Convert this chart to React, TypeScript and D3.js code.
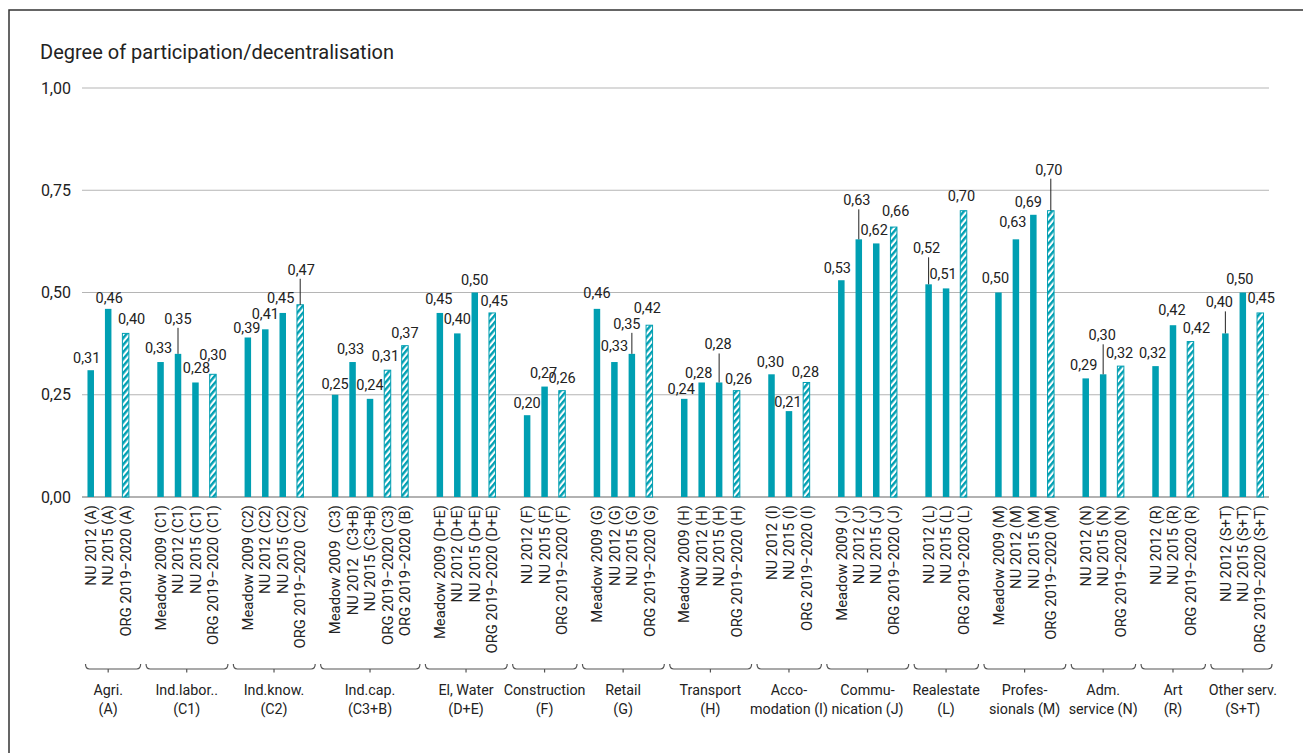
import * as d3 from "d3";
import { useEffect, useRef } from "react";

// category groups (two-line labels under the brackets)
const groupNames = [
  ["Agri.", "(A)"],
  ["Ind.labor..", "(C1)"],
  ["Ind.know.", "(C2)"],
  ["Ind.cap.", "(C3+B)"],
  ["El, Water", "(D+E)"],
  ["Construction", "(F)"],
  ["Retail", "(G)"],
  ["Transport", "(H)"],
  ["Acco-", "modation (I)"],
  ["Commu-", "nication (J)"],
  ["Realestate", "(L)"],
  ["Profes-", "sionals (M)"],
  ["Adm.", "service (N)"],
  ["Art", "(R)"],
  ["Other serv.", "(S+T)"],
];

// bar labels (rotated under the axis)
const seriesNames = [
  ["NU 2012 (A)", "NU 2015 (A)", "ORG 2019\u22122020 (A)"],
  ["Meadow 2009 (C1)", "NU 2012 (C1)", "NU 2015 (C1)", "ORG 2019\u22122020 (C1)"],
  ["Meadow 2009 (C2)", "NU 2012 (C2)", "NU 2015 (C2)", "ORG 2019\u22122020  (C2)"],
  ["Meadow 2009  (C3)", "NU 2012  (C3+B)", "NU 2015 (C3+B)", "ORG 2019\u22122020 (C3)", "ORG 2019\u22122020 (B)"],
  ["Meadow 2009 (D+E)", "NU 2012 (D+E)", "NU 2015 (D+E)", "ORG 2019\u22122020 (D+E)"],
  ["NU 2012 (F)", "NU 2015 (F)", "ORG 2019\u22122020 (F)"],
  ["Meadow 2009 (G)", "NU 2012 (G)", "NU 2015 (G)", "ORG 2019\u22122020 (G)"],
  ["Meadow 2009 (H)", "NU 2012 (H)", "NU 2015 (H)", "ORG 2019\u22122020 (H)"],
  ["NU 2012 (I)", "NU 2015 (I)", "ORG 2019\u22122020 (I)"],
  ["Meadow 2009 (J)", "NU 2012 (J)", "NU 2015 (J)", "ORG 2019\u22122020 (J)"],
  ["NU 2012 (L)", "NU 2015 (L)", "ORG 2019\u22122020 (L)"],
  ["Meadow 2009 (M)", "NU 2012 (M)", "NU 2015 (M)", "ORG 2019\u22122020 (M)"],
  ["NU 2012 (N)", "NU 2015 (N)", "ORG 2019\u22122020 (N)"],
  ["NU 2012 (R)", "NU 2015 (R)", "ORG 2019\u22122020 (R)"],
  ["NU 2012 (S+T)", "NU 2015 (S+T)", "ORG 2019\u22122020 (S+T)"],
];

// bar heights as drawn
const values = [
  [0.31, 0.46, 0.4],
  [0.33, 0.35, 0.28, 0.3],
  [0.39, 0.41, 0.45, 0.47],
  [0.25, 0.33, 0.24, 0.31, 0.37],
  [0.45, 0.4, 0.5, 0.45],
  [0.2, 0.27, 0.26],
  [0.46, 0.33, 0.35, 0.42],
  [0.24, 0.28, 0.28, 0.26],
  [0.3, 0.21, 0.28],
  [0.53, 0.63, 0.62, 0.66],
  [0.52, 0.51, 0.7],
  [0.5, 0.63, 0.69, 0.7],
  [0.29, 0.3, 0.32],
  [0.32, 0.42, 0.38],
  [0.4, 0.5, 0.45],
];

// values printed above the bars
const printed = [
  ["0,31", "0,46", "0,40"],
  ["0,33", "0,35", "0,28", "0,30"],
  ["0,39", "0,41", "0,45", "0,47"],
  ["0,25", "0,33", "0,24", "0,31", "0,37"],
  ["0,45", "0,40", "0,50", "0,45"],
  ["0,20", "0,27", "0,26"],
  ["0,46", "0,33", "0,35", "0,42"],
  ["0,24", "0,28", "0,28", "0,26"],
  ["0,30", "0,21", "0,28"],
  ["0,53", "0,63", "0,62", "0,66"],
  ["0,52", "0,51", "0,70"],
  ["0,50", "0,63", "0,69", "0,70"],
  ["0,29", "0,30", "0,32"],
  ["0,32", "0,42", "0,42"],
  ["0,40", "0,50", "0,45"],
];

const yTicks = [0, 0.25, 0.5, 0.75, 1];

// label nudges [dx, dy] relative to bar top; big dy gets a leader line
const nudges = [
  [[-4, -7], [1, -6], [6, -9]],
  [[-2, -9], [0, -30], [1, -9], [0, -14]],
  [[-1, -4], [0, -10], [-2, -10], [1, -30]],
  [[0, -6], [-2, -8], [0, -9], [-2, -9], [0, -8]],
  [[-1, -9], [0, -9], [0, -8], [2, -7]],
  [[0, -7], [-1, -9], [0, -8]],
  [[0, -11], [0, -11], [-5, -25], [-2, -12]],
  [[-3, -5], [-3, -4], [-1, -33], [2, -7]],
  [[-1, -7], [-1, -4], [-1, -5]],
  [[-4, -7], [-2, -34], [-2, -8], [2, -11]],
  [[-2, -31], [-3, -9], [-2, -10]],
  [[-3, -10], [-3, -12], [-5, -8], [-2, -36]],
  [[-2, -8], [-1, -34], [-1, -8]],
  [[-3, -8], [-1, -10], [6, -9]],
  [[-6, -26], [-3, -9], [1, -10]],
];

function ParticipationChart() {
  const ref = useRef<SVGSVGElement>(null);

  useEffect(() => {
    const svg = d3.select(ref.current);
    svg.selectAll("*").remove();

    const teal = "#009fb2";
    const font = "Roboto, 'Noto Sans', sans-serif";
    const left = 82,
      right = 1269,
      bottom = 497,
      top = 88;

    // one slot per bar, plus an empty slot between groups
    const slots: string[] = [];
    const bars: any[] = [];
    groupNames.forEach((g, gi) => {
      if (gi > 0) slots.push(`gap${gi}`);
      seriesNames[gi].forEach((s, si) => {
        const key = `${gi}-${si}`;
        slots.push(key);
        bars.push({
          key,
          group: gi,
          name: s,
          value: values[gi][si],
          text: printed[gi][si],
          nudge: nudges[gi][si],
          hatched: s.startsWith("ORG"),
        });
      });
    });

    const x = d3.scaleBand().domain(slots).range([left, right]);
    const y = d3.scaleLinear().domain([0, 1]).range([bottom, top]);
    const cx = (k: string) => (x(k) as number) + x.bandwidth() / 2;
    const barW = 6.5;

    const defs = svg.append("defs");
    const pat = defs
      .append("pattern")
      .attr("id", "hatch")
      .attr("patternUnits", "userSpaceOnUse")
      .attr("width", 4.5)
      .attr("height", 4.5)
      .attr("patternTransform", "rotate(40)");
    pat.append("rect").attr("width", 4.5).attr("height", 4.5).attr("fill", "white");
    pat.append("rect").attr("width", 2.4).attr("height", 4.5).attr("fill", teal);

    // frame
    svg
      .append("path")
      .attr("d", "M9,753 V10 H1303")
      .attr("fill", "none")
      .attr("stroke", "#333")
      .attr("stroke-width", 1.5);

    // title
    svg
      .append("text")
      .attr("x", 40)
      .attr("y", 59)
      .style("font-family", font)
      .style("font-size", "20px")
      .attr("fill", "#222")
      .text("Degree of participation/decentralisation");

    // grid + y ticks
    svg
      .append("g")
      .selectAll("line")
      .data(yTicks)
      .join("line")
      .attr("x1", left)
      .attr("x2", right)
      .attr("y1", (d) => y(d))
      .attr("y2", (d) => y(d))
      .attr("stroke", (d) => (d === 0 ? "#999" : "#b5b5b5"))
      .attr("stroke-width", (d) => (d === 0 ? 1.6 : 1));

    svg
      .append("g")
      .selectAll("text")
      .data(yTicks)
      .join("text")
      .attr("x", 71)
      .attr("y", (d) => y(d))
      .attr("dy", "0.35em")
      .attr("text-anchor", "end")
      .style("font-family", font)
      .style("font-size", "16px")
      .attr("fill", "#222")
      .text((d) => d3.format(".2f")(d).replace(".", ","));

    // bars
    svg
      .append("g")
      .selectAll("rect")
      .data(bars)
      .join("rect")
      .attr("x", (d) => cx(d.key) - barW / 2)
      .attr("y", (d) => y(d.value))
      .attr("width", barW)
      .attr("height", (d) => bottom - y(d.value))
      .attr("fill", (d) => (d.hatched ? "url(#hatch)" : teal))
      .attr("stroke", (d) => (d.hatched ? teal : "none"))
      .attr("stroke-width", 1);

    // value labels and leader lines
    const lab = svg.append("g");
    lab
      .selectAll("line")
      .data(bars.filter((d) => d.nudge[1] < -20))
      .join("line")
      .attr("x1", (d) => cx(d.key))
      .attr("x2", (d) => cx(d.key))
      .attr("y1", (d) => y(d.value) + d.nudge[1] + 4)
      .attr("y2", (d) => y(d.value))
      .attr("stroke", "#222")
      .attr("stroke-width", 1);
    lab
      .selectAll("text")
      .data(bars)
      .join("text")
      .attr("x", (d) => cx(d.key) + d.nudge[0])
      .attr("y", (d) => y(d.value) + d.nudge[1])
      .attr("text-anchor", "middle")
      .style("font-family", font)
      .style("font-size", "14.5px")
      .attr("fill", "#222")
      .text((d) => d.text);

    // rotated bar names
    svg
      .append("g")
      .selectAll("text")
      .data(bars)
      .join("text")
      .attr("transform", (d) => `translate(${cx(d.key)},505) rotate(-90)`)
      .attr("dy", "0.35em")
      .attr("text-anchor", "end")
      .style("font-family", font)
      .style("font-size", "14.8px")
      .style("white-space", "pre")
      .attr("fill", "#222")
      .text((d) => d.name);

    // group brackets and names
    const grp = groupNames.map((g, gi) => {
      const keys = bars.filter((b) => b.group === gi).map((b) => b.key);
      const x0 = Math.max(cx(keys[0]) - 14.5, left + 3.5);
      const x1 = Math.min(cx(keys[keys.length - 1]) + 15, right + 3);
      return { g, x0, x1, mid: (cx(keys[0]) + cx(keys[keys.length - 1])) / 2 };
    });
    const br = svg.append("g");
    br.selectAll("path")
      .data(grp)
      .join("path")
      .attr(
        "d",
        (d) =>
          `M${d.x0},664 q0,5 4,5 H${d.x1 - 4} q4,0 4,-5 M${d.mid},669 V672.5`
      )
      .attr("fill", "none")
      .attr("stroke", "#555")
      .attr("stroke-width", 1.2);
    br.selectAll("text")
      .data(grp)
      .join("text")
      .attr("text-anchor", "middle")
      .style("font-family", font)
      .style("font-size", "14.3px")
      .attr("fill", "#222")
      .each(function (d) {
        const t = d3.select(this);
        d.g.forEach((line: string, i: number) => {
          t.append("tspan")
            .attr("x", d.mid)
            .attr("y", 695 + i * 19)
            .text(line);
        });
      });
  }, []);

  return (
    <div>
      <style>{"body{margin:0}"}</style>
      <svg ref={ref} width={1303} height={753} style={{ display: "block", background: "white" }} />
    </div>
  );
}

export default function App() {
  return <ParticipationChart />;
}
